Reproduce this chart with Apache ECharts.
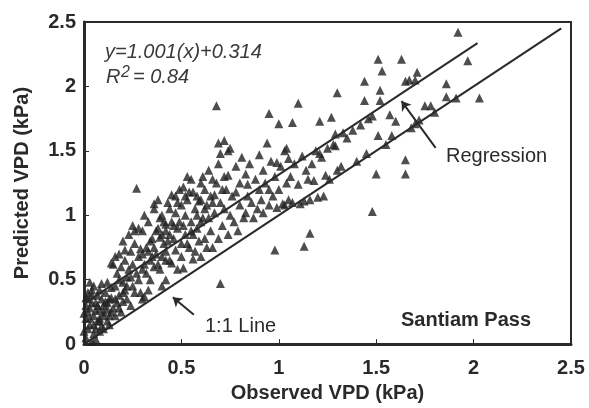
<!DOCTYPE html>
<html>
<head>
    <meta charset="utf-8">
    <title>Santiam Pass VPD</title>
    <script src="https://cdn.jsdelivr.net/npm/echarts@6/dist/echarts.min.js"></script>
    <style>
        html, body { margin: 0; padding: 0; background: #fff; }
        #main { width: 589px; height: 408px; }
    </style>
</head>
<body>
<div id="main"></div>
<script>
    // observed vs predicted VPD (kPa)
    var observed = [
        0.01,0.02,0.01,0.03,0.02,0.04,0.01,0.03,0.05,0.05,0.06,0.04,0.07,0.08,0.06,0.09,0.08,0.10,0.02,0.05,0.03,0.07,0.09,0.10,0.11,0.12,0.12,0.04,0.06,0.08,0.02,0.00,0.00,0.01,0.06,0.07,0.11,0.13,0.14,0.04,0.03,0.08,0.09,0.12,0.10,
        0.13,0.14,0.15,0.15,0.16,0.16,0.17,0.17,0.18,0.18,0.19,0.19,0.20,0.20,0.21,0.21,0.22,0.22,0.23,0.23,0.24,0.24,0.25,0.25,0.14,0.21,0.18,0.13,0.16,0.20,
        0.26,0.26,0.27,0.27,0.28,0.28,0.29,0.29,0.30,0.30,0.31,0.31,0.31,0.32,0.33,0.33,0.34,0.34,0.35,0.35,0.36,0.36,0.36,0.37,0.38,0.38,0.39,0.39,0.39,0.40,0.40,0.41,0.41,0.42,0.42,0.42,0.42,0.42,0.43,0.44,0.44,0.45,0.45,0.45,
        0.46,0.47,0.47,0.48,0.48,0.49,0.50,0.50,0.51,0.51,0.52,0.52,0.53,0.53,0.54,0.54,0.55,0.55,0.56,0.56,0.57,0.57,0.58,0.58,0.59,0.59,0.60,0.60,0.61,0.61,0.62,0.62,0.63,0.63,0.64,0.64,0.65,0.65,0.49,0.53,
        0.66,0.66,0.67,0.67,0.68,0.69,0.69,0.69,0.70,0.70,0.70,0.71,0.72,0.72,0.72,0.73,0.74,0.74,0.74,0.75,0.75,0.76,0.77,0.78,0.78,0.79,0.80,0.80,0.81,0.82,0.83,0.83,0.84,0.84,0.85,
        0.86,0.87,0.88,0.89,0.90,0.90,0.91,0.92,0.92,0.93,0.94,0.95,0.95,0.95,0.96,0.97,0.98,0.98,0.99,0.99,1.00,1.00,1.01,1.02,1.03,1.04,1.04,1.05,1.05,1.03,
        1.06,1.07,1.07,1.08,1.10,1.10,1.11,1.12,1.13,1.13,1.14,1.15,1.16,1.16,1.17,1.18,1.19,1.20,1.21,1.21,1.22,1.23,1.24,1.25,1.26,1.27,1.28,1.29,1.29,1.30,1.30,
        1.32,1.33,1.35,1.38,1.40,1.42,1.44,1.44,1.46,1.48,1.48,1.50,1.51,1.51,1.52,1.52,1.53,1.55,1.57,1.60,1.58,1.45,
        1.63,1.65,1.65,1.65,1.67,1.68,1.70,1.70,1.71,1.72,1.75,1.78,1.80,1.86,1.86,1.91,1.92,1.97,2.03,
        0.05,0.08,0.10,0.12,0.14,0.16,0.18,0.20,0.22,0.24,0.26,0.28,0.30,0.32,0.34,0.36,0.38,0.40,0.43,0.46,
        0.48,0.50,0.52,0.55,0.58,0.60,0.62,0.66,0.68,0.71,0.30,0.33,0.37,0.40,0.44,0.47,0.51,0.56,0.60,0.25
    ];
    var predicted = [
        0.05,0.12,0.20,0.28,0.35,0.42,0.30,0.15,0.08,0.22,0.32,0.38,0.18,0.27,0.12,0.35,0.42,0.22,0.25,0.45,0.48,0.38,0.14,0.30,0.40,0.18,0.27,0.02,0.04,0.10,0.40,0.10,0.24,0.36,0.26,0.30,0.33,0.22,0.36,0.32,0.20,0.20,0.47,0.48,0.12,
        0.15,0.44,0.28,0.62,0.45,0.22,0.55,0.32,0.38,0.70,0.25,0.60,0.48,0.80,0.65,0.42,0.35,0.52,0.58,0.85,0.72,0.30,0.45,0.62,0.63,0.73,0.50,0.35,0.68,0.33,
        0.78,0.88,0.55,1.21,0.68,0.90,0.40,0.74,0.88,0.35,0.62,1.00,0.37,0.75,0.95,0.42,0.50,0.80,0.82,0.68,1.05,0.60,1.09,0.70,0.90,1.12,0.58,0.83,0.98,1.00,0.45,0.78,0.95,0.88,0.72,0.50,0.93,0.65,1.10,0.65,1.05,0.95,1.16,0.63,
        0.82,0.73,1.02,0.90,0.58,1.20,0.68,1.08,0.59,1.22,0.85,1.00,0.78,1.12,1.18,0.75,0.95,1.28,0.66,0.85,1.05,0.72,1.15,0.90,1.11,0.80,1.25,0.68,0.98,1.30,0.82,1.20,1.08,0.75,0.98,1.35,0.88,1.15,0.95,1.30,
        0.75,1.28,1.16,1.02,1.85,0.82,1.56,1.40,0.47,1.48,1.10,0.92,1.05,1.58,1.30,1.20,1.31,1.50,0.85,1.00,1.52,1.15,0.95,1.18,1.38,0.88,1.08,1.25,1.45,0.98,1.02,1.32,1.24,1.15,1.40,
        1.10,0.98,1.28,1.05,1.47,1.20,1.12,1.35,1.02,1.25,1.56,1.79,1.20,1.08,1.42,1.15,0.73,1.30,1.41,1.06,1.71,1.20,1.38,1.09,1.50,1.52,1.25,1.12,1.44,1.08,
        1.30,1.72,1.10,1.40,1.87,1.24,1.09,1.46,0.76,1.11,1.35,1.28,0.86,1.12,1.40,1.27,1.50,1.14,1.73,1.48,1.45,1.15,1.31,1.52,1.28,1.76,1.55,1.63,1.54,1.95,1.35,
        1.38,1.64,1.60,1.66,1.42,1.70,2.04,1.89,1.75,1.77,1.03,1.32,2.21,1.62,1.97,1.89,2.12,1.55,1.78,1.73,1.62,1.48,
        2.21,2.04,1.43,1.32,2.05,1.68,2.05,1.71,2.11,1.74,1.85,1.85,1.80,2.02,1.92,1.91,2.42,2.20,1.91,
        0.15,0.18,0.25,0.32,0.25,0.35,0.28,0.40,0.45,0.52,0.40,0.50,0.70,0.55,0.65,0.75,0.62,0.85,0.80,0.92,
        1.10,0.78,1.15,0.88,1.00,1.12,1.05,1.10,1.25,1.20,0.58,0.72,0.88,0.68,0.85,1.15,0.92,1.18,0.95,0.92
    ];

    // line end points
    var oneToOneX = [0, 2.45];
    var oneToOneY = [0, 2.45];
    var regressionX = [0, 2.02];
    var regressionY = [0.314, 2.336];

    // annotation arrows [tail, head]
    var arrowRegression = [[1.805, 1.523], [1.63, 1.886]];
    var arrowOneToOne = [[0.564, 0.227], [0.456, 0.364]];

    var axisTicks = [0, 0.5, 1, 1.5, 2, 2.5];

    var FONT = "'Liberation Sans', Arial, sans-serif";
    var INK = '#2a2a2a';

    var points = observed.map(function (x, i) { return [x, predicted[i]]; });

    var chart = echarts.init(document.getElementById('main'));

    var option = {
        animation: false,
        backgroundColor: '#fff',
        grid: {
            left: 84, right: 18, top: 22, bottom: 55,
            show: true, borderColor: INK, borderWidth: 2
        },
        xAxis: {
            type: 'value',
            min: axisTicks[0], max: axisTicks[axisTicks.length - 1], interval: 0.5,
            name: 'Observed VPD (kPa)',
            nameLocation: 'middle', nameGap: 36,
            nameTextStyle: {fontFamily: FONT, fontWeight: 'bold', fontSize: 20, color: INK},
            axisLine: {show: true, lineStyle: {color: INK, width: 3}},
            axisTick: {show: true, inside: true, length: 5, lineStyle: {color: INK}},
            axisLabel: {fontFamily: FONT, fontWeight: 'bold', fontSize: 20, color: INK, margin: 14},
            splitLine: {show: false}
        },
        yAxis: {
            type: 'value',
            min: axisTicks[0], max: axisTicks[axisTicks.length - 1], interval: 0.5,
            name: 'Predicted VPD (kPa)',
            nameLocation: 'middle', nameGap: 52,
            nameTextStyle: {fontFamily: FONT, fontWeight: 'bold', fontSize: 20, color: INK},
            axisLine: {show: true, lineStyle: {color: INK, width: 3}},
            axisTick: {show: true, inside: true, length: 5, lineStyle: {color: INK}},
            axisLabel: {fontFamily: FONT, fontWeight: 'bold', fontSize: 20, color: INK, margin: 8},
            splitLine: {show: false}
        },
        series: [
            {
                type: 'scatter',
                data: points,
                symbol: 'triangle',
                symbolSize: 9,
                itemStyle: {color: '#222'}
            },
            {
                type: 'line',
                data: oneToOneX.map(function (x, i) { return [x, oneToOneY[i]]; }),
                symbol: 'none',
                lineStyle: {color: INK, width: 2},
                markLine: {
                    silent: true,
                    symbol: ['none', 'arrow'],
                    symbolSize: 9,
                    label: {show: false},
                    lineStyle: {color: INK, width: 2, type: 'solid'},
                    data: [[{coord: arrowOneToOne[0]}, {coord: arrowOneToOne[1]}]]
                }
            },
            {
                type: 'line',
                data: regressionX.map(function (x, i) { return [x, regressionY[i]]; }),
                symbol: 'none',
                lineStyle: {color: INK, width: 2},
                markLine: {
                    silent: true,
                    symbol: ['none', 'arrow'],
                    symbolSize: 9,
                    label: {show: false},
                    lineStyle: {color: INK, width: 2, type: 'solid'},
                    data: [[{coord: arrowRegression[0]}, {coord: arrowRegression[1]}]]
                }
            }
        ],
        graphic: [
            {
                type: 'text', left: 105, top: 42,
                style: {text: 'y=1.001(x)+0.314', fontFamily: FONT, fontStyle: 'italic', fontSize: 20, fill: '#3a3a3a'}
            },
            {
                type: 'text', left: 106, top: 67,
                style: {text: 'R', fontFamily: FONT, fontStyle: 'italic', fontSize: 20, fill: '#3a3a3a'}
            },
            {
                type: 'text', left: 121, top: 65,
                style: {text: '2', fontFamily: FONT, fontStyle: 'italic', fontSize: 16, fill: '#3a3a3a'}
            },
            {
                type: 'text', left: 133, top: 67,
                style: {text: '= 0.84', fontFamily: FONT, fontStyle: 'italic', fontSize: 20, fill: '#3a3a3a'}
            },
            {
                type: 'text', left: 446, top: 146,
                style: {text: 'Regression', fontFamily: FONT, fontSize: 20, fill: INK}
            },
            {
                type: 'text', left: 205, top: 316,
                style: {text: '1:1 Line', fontFamily: FONT, fontSize: 20, fill: INK}
            },
            {
                type: 'text', left: 401, top: 310,
                style: {text: 'Santiam Pass', fontFamily: FONT, fontWeight: 'bold', fontSize: 20, fill: INK}
            }
        ]
    };

    chart.setOption(option);
</script>
</body>
</html>
